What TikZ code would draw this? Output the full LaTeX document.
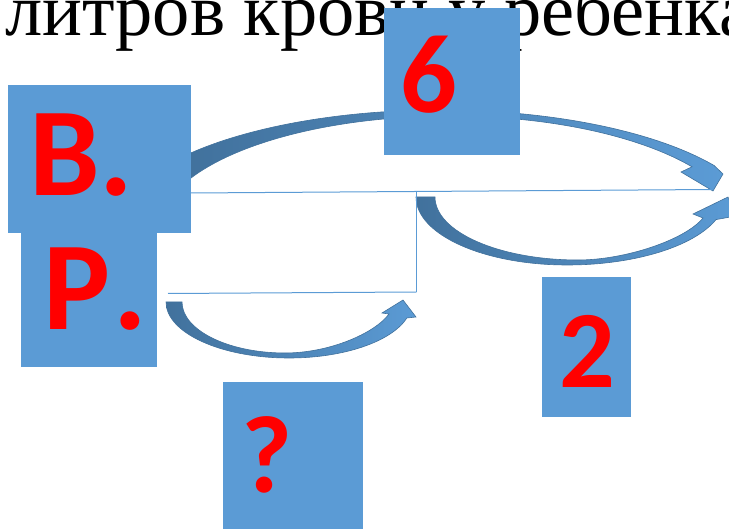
\documentclass[tikz,border=0pt]{standalone}
\usepackage{fontspec}
\setmainfont{Liberation Serif}
\newfontfamily\calib{Carlito}
\usetikzlibrary{positioning}
\definecolor{boxblue}{HTML}{5B9BD5}
\definecolor{arrowdark}{HTML}{41719C}
\definecolor{markred}{HTML}{FF0000}

\begin{document}
\begin{tikzpicture}[x=1pt, y=-1pt,
    bluebox/.style={fill=boxblue, inner sep=0pt, outer sep=0pt},
    redmark/.style={text=markred, inner sep=0pt, anchor=base},
    bentarrow/.style={draw=arrowdark, line width=0.6pt, left color=arrowdark, middle color=arrowdark, right color=boxblue},
    thinline/.style={draw=boxblue, line width=1pt}]

  \useasboundingbox (0,0) rectangle (729,529);

  % Heading (cut off at the top)
  \node[anchor=base west, inner sep=0pt, font=\fontsize{74.5}{80}\selectfont] (title) at (5,36) {литров крови у ребенка};

  % Curved arrows
  \path[bentarrow] (180,158) .. controls (241.2,127.9) and (338,110) .. (440,110)
    .. controls (551,110) and (654.4,130.9) .. (714.1,165.5)
    -- (723,174) -- (713,191) -- (681,172) -- (692,166.8)
    .. controls (637.5,135) and (546.9,116) .. (450,116)
    .. controls (336.5,116) and (233.2,142) .. (185,182.8) -- cycle;
  \path[bentarrow] (416,197) .. controls (416,234.6) and (483.6,265) .. (567,265)
    .. controls (634,265) and (693.7,246.8) .. (716,219.6)
    -- (736,216) -- (728,197) -- (693,214) -- (703,218)
    .. controls (685,240) and (625,260) .. (578,260)
    .. controls (499,260) and (435,231.8) .. (435,197) -- cycle;
  \path[bentarrow] (166,302) .. controls (166,332.9) and (221,358) .. (289,358)
    .. controls (343.5,358) and (391.4,341.8) .. (406.9,318)
    -- (416,317) -- (403,300) -- (382,313) -- (389,314)
    .. controls (375,333) and (330,353) .. (285,353)
    .. controls (228,353) and (182,330) .. (182,302) -- cycle;

  % Thin lines
  \coordinate (lineA) at (191,193);
  \coordinate (tipTop) at (713,189.5);
  \coordinate (fork) at (416.5,192.5);
  \coordinate (forkEnd) at (416.5,292);
  \coordinate (lineB) at (168,293.5);
  \draw[thinline] (lineA) -- (tipTop);
  \draw[thinline] (fork) -- (forkEnd);
  \draw[thinline] (lineB) -- (forkEnd);

  % Boxes
  \node[bluebox, minimum width=183pt, minimum height=148pt] (boxV) at (99.5,159) {};
  \node[bluebox, minimum width=136pt, minimum height=134pt] (boxR) at (89,300) {};
  \node[bluebox, minimum width=136pt, minimum height=147pt] (boxSix) at (452,81.5) {};
  \node[bluebox, minimum width=89pt, minimum height=140pt] (boxTwo) at (586.5,347) {};
  \node[bluebox, minimum width=140pt, minimum height=150pt] (boxQ) at (293,457) {};

  % Labels
  \node[redmark, anchor=base west, font=\calib\bfseries\fontsize{126}{126}\selectfont] (txtV) at (29,196) {В.};
  \node[redmark, anchor=base west, font=\calib\bfseries\fontsize{126}{126}\selectfont] (txtR) at (43,330) {Р\kern3pt.};
  \node[redmark, font=\calib\bfseries\fontsize{112}{112}\selectfont] (txtSix) at (429,113) {6};
  \node[redmark, font=\calib\bfseries\fontsize{110}{110}\selectfont] (txtTwo) at (587.5,388) {2};
  \node[redmark, font=\calib\bfseries\fontsize{110}{110}\selectfont] (txtQ) at (267,493) {?};

\end{tikzpicture}
\end{document}
